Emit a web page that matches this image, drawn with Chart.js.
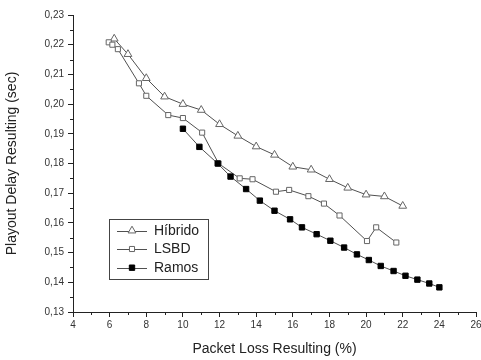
<!DOCTYPE html>
<html>
<head>
<meta charset="utf-8">
<script src="https://cdn.jsdelivr.net/npm/chart.js@4/dist/chart.umd.min.js"></script>
<style>
  html, body { margin: 0; padding: 0; background: #fff; overflow: hidden; }
  #wrap { width: 495px; height: 360px; }
</style>
</head>
<body>
<div id="wrap"><canvas id="c" width="495" height="360"></canvas></div>
<script>
// ---- data ----
const hibridoX = [6.25, 7, 8, 9, 10, 11, 12, 13, 14, 15, 16, 17, 18, 19, 20, 21, 22];
const hibridoY = [0.2220, 0.2168, 0.2087, 0.2025, 0.2000, 0.1980, 0.1932, 0.1893, 0.1857, 0.1829, 0.1789, 0.1779, 0.1747, 0.1718, 0.1695, 0.1689, 0.1657];

const lsbdX = [5.95, 6.15, 6.45, 7.6, 8.0, 9.2, 10.0, 11.05, 11.95, 13.1, 13.8, 15.08, 15.8, 16.85, 17.7, 18.55, 20.05, 20.55, 21.65];
const lsbdY = [0.2208, 0.2200, 0.2185, 0.2070, 0.2028, 0.1963, 0.1953, 0.1904, 0.1800, 0.1750, 0.1747, 0.1705, 0.1711, 0.1690, 0.1665, 0.1625, 0.1539, 0.1585, 0.1534];

const ramosX = [10.0, 10.9, 11.9, 12.6, 13.45, 14.2, 15.0, 15.85, 16.5, 17.3, 18.05, 18.8, 19.5, 20.15, 20.8, 21.5, 22.15, 22.8, 23.45, 24.0];
const ramosY = [0.1917, 0.1856, 0.1800, 0.1756, 0.1714, 0.1675, 0.1641, 0.1612, 0.1585, 0.1562, 0.1540, 0.1517, 0.1494, 0.1475, 0.1455, 0.1438, 0.1422, 0.1409, 0.1396, 0.1383];

const seriesNames = ['Híbrido', 'LSBD', 'Ramos'];
const xMin = 4, xMax = 26, xStep = 2;
const yMin = 0.13, yMax = 0.23, yStep = 0.01;
const xTitle = 'Packet Loss Resulting (%)';
const yTitle = 'Playout Delay Resulting (sec)';

const zip = (xs, ys) => xs.map((x, i) => ({ x: x, y: ys[i] }));

const FONT = "'Liberation Sans', Arial, sans-serif";
const LINE = '#505050';

// minor ticks drawn through the scales
const minorTicks = {
  id: 'minorTicks',
  afterDraw(chart) {
    const ctx = chart.ctx;
    const xs = chart.scales.x, ys = chart.scales.y;
    ctx.save();
    ctx.strokeStyle = '#222';
    ctx.lineWidth = 1;
    ctx.beginPath();
    for (let v = xMin + xStep / 2; v < xMax; v += xStep) {
      const px = Math.round(xs.getPixelForValue(v)) + 0.5;
      ctx.moveTo(px, xs.top);
      ctx.lineTo(px, xs.top + 3);
    }
    for (let k = 0; k < Math.round((yMax - yMin) / yStep); k++) {
      const v = yMin + (k + 0.5) * yStep;
      const py = Math.round(ys.getPixelForValue(v)) + 0.5;
      ctx.moveTo(ys.right, py);
      ctx.lineTo(ys.right - 3, py);
    }
    ctx.stroke();
    ctx.restore();
  }
};

// legend box inside plot area
const boxLegend = {
  id: 'boxLegend',
  afterDraw(chart) {
    const ctx = chart.ctx;
    const ca = chart.chartArea;
    const bx = ca.left + 36, by = ca.top + 204, bw = 99, bh = 60;
    ctx.save();
    ctx.fillStyle = '#fff';
    ctx.fillRect(bx, by, bw, bh);
    ctx.strokeStyle = '#444';
    ctx.lineWidth = 1;
    ctx.strokeRect(bx + 0.5, by + 0.5, bw, bh);
    const rows = [11.7, 30, 48.7];
    chart.data.datasets.forEach((ds, i) => {
      const y = by + rows[i];
      ctx.strokeStyle = LINE;
      ctx.lineWidth = 1;
      ctx.beginPath();
      ctx.moveTo(bx + 8, Math.round(y) + 0.5);
      ctx.lineTo(bx + 38, Math.round(y) + 0.5);
      ctx.stroke();
      ctx.fillStyle = ds.pointBackgroundColor;
      ctx.strokeStyle = ds.pointBorderColor;
      ctx.lineWidth = 1;
      Chart.helpers.drawPoint(ctx, { pointStyle: ds.pointStyle, radius: ds.pointRadius, borderWidth: 1, rotation: 0 }, bx + 23, y);
      ctx.fillStyle = '#222';
      ctx.font = '14px ' + FONT;
      ctx.textBaseline = 'middle';
      ctx.textAlign = 'left';
      ctx.fillText(ds.label, bx + 45, y + 0.5);
    });
    ctx.restore();
  }
};

new Chart(document.getElementById('c'), {
  type: 'scatter',
  data: {
    datasets: [
      {
        label: seriesNames[0], data: zip(hibridoX, hibridoY), showLine: true,
        borderColor: LINE, borderWidth: 1,
        pointStyle: 'triangle', pointRadius: 4.5, pointBackgroundColor: '#fff',
        pointBorderColor: '#666', pointBorderWidth: 1, order: 3
      },
      {
        label: seriesNames[1], data: zip(lsbdX, lsbdY), showLine: true,
        borderColor: LINE, borderWidth: 1,
        pointStyle: 'rect', pointRadius: 3.6, pointBackgroundColor: '#fff',
        pointBorderColor: '#666', pointBorderWidth: 1, order: 2
      },
      {
        label: seriesNames[2], data: zip(ramosX, ramosY), showLine: true,
        borderColor: LINE, borderWidth: 1,
        pointStyle: 'rect', pointRadius: 3.8, pointBackgroundColor: '#000',
        pointBorderColor: '#000', pointBorderWidth: 1, order: 1
      }
    ]
  },
  options: {
    responsive: false,
    animation: false,
    layout: { padding: { top: 15, right: 19, bottom: 0, left: 0 } },
    plugins: { legend: { display: false }, tooltip: { enabled: false } },
    scales: {
      x: {
        type: 'linear', min: xMin, max: xMax,
        afterFit(s) { s.height = 48; },
        ticks: { stepSize: xStep, color: '#333', font: { family: FONT, size: 10 }, padding: 2, maxRotation: 0, autoSkip: false },
        grid: { drawOnChartArea: false, drawTicks: true, tickLength: 5, color: '#222' },
        border: { display: true, color: '#222', width: 1 },
        title: { display: true, text: xTitle, color: '#222', font: { family: FONT, size: 14 }, padding: { top: 0, bottom: 2 } }
      },
      y: {
        type: 'linear', min: yMin, max: yMax,
        afterFit(s) { s.width = 73; },
        ticks: {
          stepSize: yStep, color: '#333', font: { family: FONT, size: 10 }, padding: 4,
          callback: (v) => v.toFixed(2).replace('.', ',')
        },
        grid: { drawOnChartArea: false, drawTicks: true, tickLength: 5, color: '#222' },
        border: { display: true, color: '#222', width: 1 },
        title: { display: true, text: yTitle, color: '#222', font: { family: FONT, size: 14 }, padding: { top: 4, bottom: 0 } }
      }
    }
  },
  plugins: [minorTicks, boxLegend]
});
</script>
</body>
</html>
